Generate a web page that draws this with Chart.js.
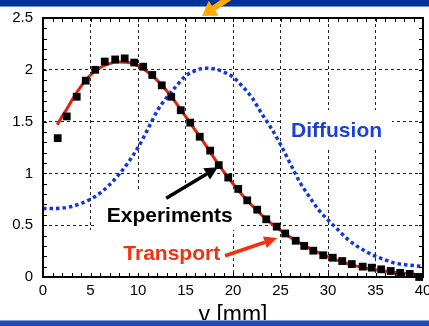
<!DOCTYPE html>
<html>
<head>
<meta charset="utf-8">
<script src="https://cdn.jsdelivr.net/npm/chart.js@4.4.1/dist/chart.umd.min.js"></script>
<style>
    html, body { margin: 0; padding: 0; background: #fff; }
    #wrap { position: relative; width: 429px; height: 326px; }
</style>
</head>
<body>
<div id="wrap"><canvas id="chart" width="429" height="326"></canvas></div>
<script>
    // experiment points (black squares)
    var expX = [1.55, 2.5, 3.55, 4.5, 5.5, 6.5, 7.6, 8.6, 9.6, 10.55, 11.5, 12.5, 13.5, 14.5, 15.5, 16.5, 17.6, 18.5, 19.5, 20.55,
        21.5, 22.55, 23.5, 24.6, 25.5, 26.6, 27.5, 28.45, 29.5, 30.5, 31.5, 32.5, 33.65, 34.6, 35.6, 36.6, 37.6, 38.6, 39.6];
    var expY = [1.34, 1.55, 1.74, 1.895, 2.0, 2.08, 2.10, 2.11, 2.07, 2.03, 1.95, 1.85, 1.74, 1.61, 1.49, 1.354, 1.22, 1.08, 0.96, 0.85,
        0.74, 0.65, 0.557, 0.486, 0.42, 0.35, 0.30, 0.254, 0.21, 0.186, 0.154, 0.125, 0.10, 0.09, 0.074, 0.058, 0.04, 0.03, 0.0];

    // transport model (red line)
    var transX = [1.5, 2, 2.5, 3, 4, 5, 6, 7, 8, 9, 10, 11, 12, 13, 14, 15, 16, 17, 18, 19, 20,
        21, 22, 23, 24, 25, 26, 27, 28, 29, 30, 31, 32, 33, 34, 35, 36, 37, 38, 39, 40];
    var transY = [1.47, 1.55, 1.62, 1.70, 1.84, 1.95, 2.02, 2.06, 2.075, 2.07, 2.04, 1.98, 1.90, 1.80, 1.68, 1.55, 1.42, 1.29, 1.15, 1.02, 0.90,
        0.79, 0.69, 0.60, 0.52, 0.45, 0.385, 0.33, 0.28, 0.235, 0.195, 0.16, 0.13, 0.105, 0.085, 0.07, 0.055, 0.045, 0.035, 0.027, 0.02];

    // diffusion model (blue dotted)
    var diffX = [0, 1, 2, 3, 4, 5, 6, 7, 8, 9, 10, 11, 12, 13, 14, 15, 16, 17, 18, 19, 20,
        21, 22, 23, 24, 25, 26, 27, 28, 29, 30, 31, 32, 33, 34, 35, 36, 37, 38, 39, 40];
    var diffY = [0.66, 0.66, 0.665, 0.68, 0.71, 0.75, 0.81, 0.89, 0.99, 1.11, 1.25, 1.42, 1.60, 1.73, 1.84, 1.94, 1.99, 2.015, 2.01, 1.98, 1.93,
        1.84, 1.73, 1.58, 1.44, 1.28, 1.10, 0.92, 0.78, 0.65, 0.55, 0.46, 0.37, 0.30, 0.245, 0.20, 0.165, 0.135, 0.12, 0.11, 0.10];

    var xTicks = [0, 5, 10, 15, 20, 25, 30, 35, 40];
    var yTicks = [0, 0.5, 1, 1.5, 2, 2.5];

    var FONT = '"Liberation Sans", Arial, Helvetica, sans-serif';

    function pts(xs, ys) {
        return xs.map(function (x, i) { return { x: x, y: ys[i] }; });
    }

    function arrow(ctx, x1, y1, x2, y2, color, w, headLen, headW) {
        var a = Math.atan2(y2 - y1, x2 - x1);
        var bx = x2 - Math.cos(a) * headLen, by = y2 - Math.sin(a) * headLen;
        ctx.save();
        ctx.strokeStyle = color;
        ctx.fillStyle = color;
        ctx.lineWidth = w;
        ctx.beginPath();
        ctx.moveTo(x1, y1);
        ctx.lineTo(bx, by);
        ctx.stroke();
        ctx.beginPath();
        ctx.moveTo(x2, y2);
        ctx.lineTo(bx + Math.sin(a) * headW / 2, by - Math.cos(a) * headW / 2);
        ctx.lineTo(bx - Math.sin(a) * headW / 2, by + Math.cos(a) * headW / 2);
        ctx.closePath();
        ctx.fill();
        ctx.restore();
    }

    var decor = {
        id: 'decor',
        beforeDatasetsDraw: function (chart) {
            var ctx = chart.ctx;
            // white boxes behind labels
            ctx.save();
            ctx.fillStyle = '#fff';
            ctx.fillRect(96, 190, 142, 40);
            ctx.fillRect(88, 230, 140, 46);
            ctx.fillRect(282, 110, 110, 37);
            ctx.restore();
        },
        afterDraw: function (chart) {
            var ctx = chart.ctx, xs = chart.scales.x, ys = chart.scales.y, a = chart.chartArea;
            ctx.save();
            // frame
            ctx.strokeStyle = '#000';
            ctx.lineWidth = 2;
            ctx.strokeRect(a.left, a.top, a.right - a.left, a.bottom - a.top);
            // minor ticks inward on all four sides
            ctx.lineWidth = 1;
            ctx.beginPath();
            for (var i = 1; i < 40; i++) {
                var px = Math.round(xs.getPixelForValue(i)) + 0.5;
                ctx.moveTo(px, a.bottom); ctx.lineTo(px, a.bottom - 4);
                ctx.moveTo(px, a.top); ctx.lineTo(px, a.top + 4);
            }
            for (var j = 1; j < 25; j++) {
                var py = Math.round(ys.getPixelForValue(j / 10)) + 0.5;
                ctx.moveTo(a.left, py); ctx.lineTo(a.left + 4, py);
                ctx.moveTo(a.right, py); ctx.lineTo(a.right - 4, py);
            }
            ctx.stroke();

            // labels
            ctx.font = 'bold 21px ' + FONT;
            ctx.textAlign = 'center';
            ctx.textBaseline = 'alphabetic';
            ctx.fillStyle = '#1c3fd9';
            ctx.fillText('Diffusion', xs.getPixelForValue(30.9), ys.getPixelForValue(1.35));
            ctx.fillStyle = '#000';
            ctx.fillText('Experiments', xs.getPixelForValue(13.34), ys.getPixelForValue(0.534));
            ctx.fillStyle = '#f5300f';
            ctx.fillText('Transport', xs.getPixelForValue(13.55), ys.getPixelForValue(0.164));

            arrow(ctx, xs.getPixelForValue(12.97), ys.getPixelForValue(0.76),
                xs.getPixelForValue(18.4), ys.getPixelForValue(1.06), '#000', 3.5, 13, 13);
            arrow(ctx, xs.getPixelForValue(19.16), ys.getPixelForValue(0.205),
                xs.getPixelForValue(24.65), ys.getPixelForValue(0.376), '#f5300f', 3.5, 13, 12);

            // axis title
            ctx.font = '23px ' + FONT;
            ctx.fillStyle = '#000';
            ctx.fillText('y [mm]', (a.left + a.right) / 2, 322);

            // slide bands
            ctx.fillStyle = '#003399';
            ctx.fillRect(0, 0, chart.width, 6);
            ctx.fillStyle = '#6d8fd4';
            ctx.fillRect(0, 6, chart.width, 1);
            ctx.fillStyle = '#7f9fe0';
            ctx.fillRect(0, 320, chart.width, 1);
            ctx.fillStyle = '#1d4db3';
            ctx.fillRect(0, 321, chart.width, 5);

            // orange pointer at the top
            arrow(ctx, 232, -4, 202, 16, '#ffaa00', 6, 14, 18);
            ctx.restore();
        }
    };

    function gridColor(ctx) {
        var v = ctx.tick && ctx.tick.value;
        var s = ctx.scale;
        if (v === s.min || v === s.max) return 'rgba(0,0,0,0)';
        return '#222';
    }

    function plainLabel(v) {
        return String(v);
    }

    new Chart(document.getElementById('chart'), {
        type: 'scatter',
        data: {
            datasets: [{
                label: 'Experiments',
                data: pts(expX, expY),
                pointStyle: 'rect',
                pointRadius: 5.5,
                pointHoverRadius: 5.5,
                borderWidth: 0,
                backgroundColor: '#000',
                borderColor: '#000',
                showLine: false,
                clip: false
            }, {
                label: 'Transport',
                data: pts(transX, transY),
                showLine: true,
                borderColor: '#e0250c',
                borderWidth: 3,
                pointRadius: 0,
                tension: 0.4,
                cubicInterpolationMode: 'monotone'
            }, {
                label: 'Diffusion',
                data: pts(diffX, diffY),
                showLine: true,
                borderColor: '#1436d8',
                borderWidth: 3.5,
                borderDash: [3.5, 3],
                pointRadius: 0,
                tension: 0.4,
                cubicInterpolationMode: 'monotone'
            }]
        },
        options: {
            responsive: false,
            animation: false,
            devicePixelRatio: 1,
            layout: { padding: { left: 0, right: 6, top: 18, bottom: 0 } },
            plugins: { legend: { display: false }, tooltip: { enabled: false } },
            scales: {
                x: {
                    type: 'linear',
                    min: 0,
                    max: 40,
                    afterBuildTicks: function (s) { s.ticks = xTicks.map(function (v) { return { value: v }; }); },
                    afterFit: function (s) { s.height = 49; s.paddingLeft = 0; s.paddingRight = 0; },
                    grid: { color: gridColor, lineWidth: 1, drawTicks: false },
                    border: { display: false, dash: [3, 3] },
                    ticks: { color: '#000', padding: 5, maxRotation: 0, callback: plainLabel, font: { family: FONT, size: 15 } }
                },
                y: {
                    type: 'linear',
                    min: 0,
                    max: 2.5,
                    afterBuildTicks: function (s) { s.ticks = yTicks.map(function (v) { return { value: v }; }); },
                    afterFit: function (s) { s.width = 43; s.paddingTop = 0; s.paddingBottom = 0; },
                    grid: { color: gridColor, lineWidth: 1, drawTicks: false },
                    border: { display: false, dash: [3, 3] },
                    ticks: { color: '#000', padding: 10, callback: plainLabel, font: { family: FONT, size: 15 } }
                }
            }
        },
        plugins: [decor]
    });
</script>
</body>
</html>
